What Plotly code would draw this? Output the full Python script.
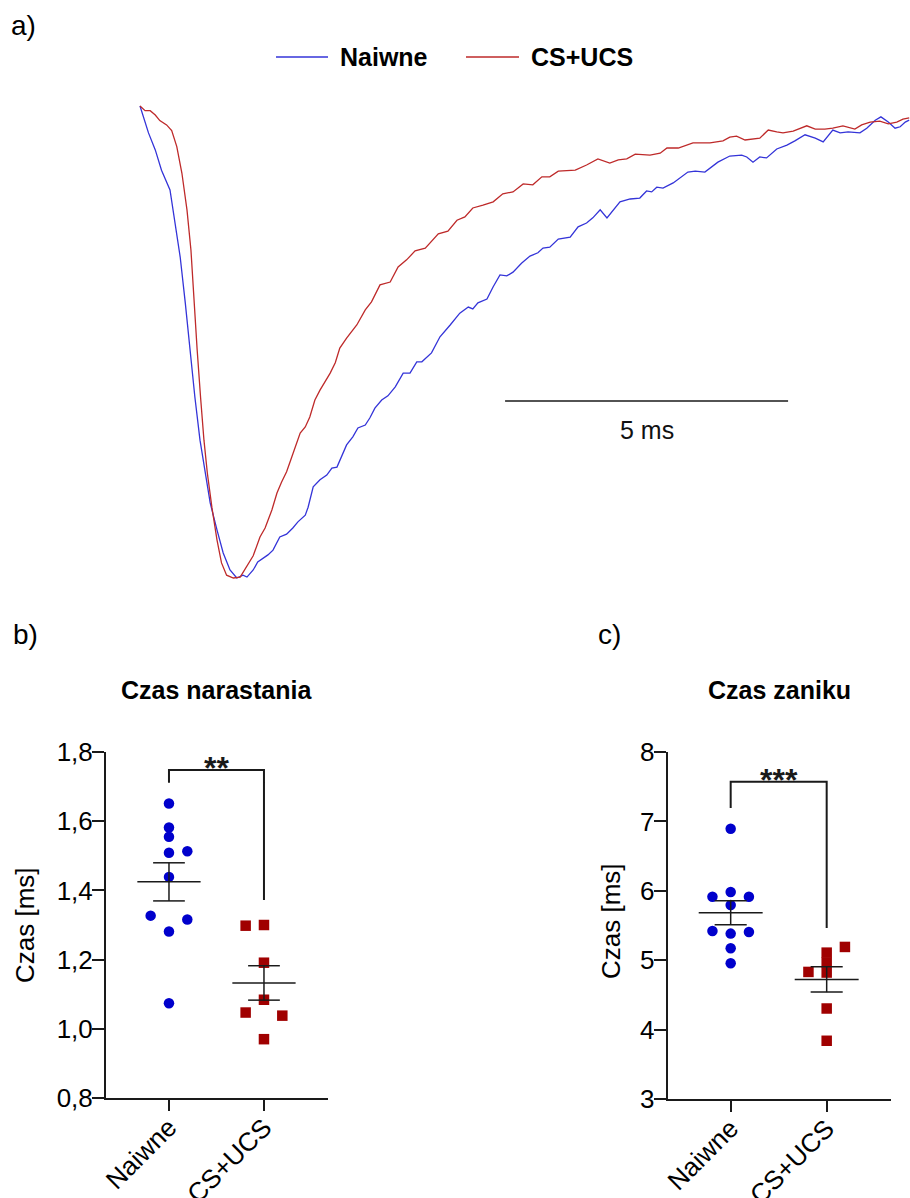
import plotly.graph_objects as go

# ---------------- data ----------------
# a) averaged EPSC traces: time [ms], amplitude normalised to the peak
naiwne_t = [0.00, 0.15, 0.27, 0.38, 0.53, 0.62, 0.71, 0.80, 0.88, 0.97, 1.06, 1.15, 1.24, 1.36, 1.47,
            1.59, 1.71, 1.82, 1.89, 2.00, 2.08, 2.26, 2.35, 2.47, 2.59, 2.70, 2.79, 2.92, 2.97, 3.06,
            3.18, 3.30, 3.39, 3.48, 3.56, 3.65, 3.76, 3.85, 3.98, 4.06, 4.15, 4.27, 4.38, 4.51, 4.65,
            4.77, 4.89, 4.98, 5.15, 5.30, 5.48, 5.65, 5.80, 5.88, 5.97, 6.13, 6.24, 6.36, 6.48, 6.59,
            6.74, 6.89, 7.03, 7.12, 7.24, 7.39, 7.60, 7.74, 7.89, 8.00, 8.13, 8.25, 8.48, 8.66, 8.83,
            8.95, 9.04, 9.13, 9.24, 9.42, 9.68, 9.81, 9.98, 10.21, 10.42, 10.63, 10.72, 10.83, 10.95,
            11.07, 11.25, 11.43, 11.57, 11.75, 11.93, 12.07, 12.24, 12.37, 12.51, 12.72, 12.84, 12.99,
            13.09, 13.22, 13.34, 13.43, 13.52, 13.59]
naiwne_amp = [0.000, -0.057, -0.093, -0.136, -0.178, -0.248, -0.320, -0.417, -0.517, -0.617, -0.708,
              -0.778, -0.841, -0.898, -0.947, -0.983, -1.000, -0.994, -0.998, -0.983, -0.966, -0.951,
              -0.941, -0.913, -0.907, -0.894, -0.881, -0.867, -0.850, -0.807, -0.792, -0.782, -0.767,
              -0.765, -0.744, -0.718, -0.701, -0.682, -0.676, -0.661, -0.640, -0.623, -0.614, -0.595,
              -0.566, -0.566, -0.542, -0.542, -0.523, -0.489, -0.464, -0.439, -0.426, -0.430, -0.417,
              -0.409, -0.383, -0.358, -0.360, -0.352, -0.333, -0.318, -0.311, -0.301, -0.299, -0.282,
              -0.278, -0.256, -0.248, -0.237, -0.220, -0.237, -0.203, -0.197, -0.195, -0.180, -0.182,
              -0.172, -0.174, -0.163, -0.140, -0.138, -0.140, -0.119, -0.106, -0.104, -0.108, -0.119,
              -0.108, -0.110, -0.091, -0.083, -0.074, -0.061, -0.068, -0.076, -0.051, -0.057, -0.055,
              -0.057, -0.047, -0.030, -0.023, -0.034, -0.047, -0.044, -0.034, -0.030]

csucs_t = [0.00, 0.09, 0.18, 0.27, 0.35, 0.47, 0.56, 0.65, 0.74, 0.83, 0.90, 0.95, 1.01, 1.07, 1.13,
           1.19, 1.27, 1.36, 1.44, 1.53, 1.65, 1.77, 1.89, 2.00, 2.12, 2.21, 2.33, 2.42, 2.50, 2.59,
           2.68, 2.83, 2.92, 3.00, 3.09, 3.18, 3.36, 3.45, 3.53, 3.65, 3.83, 3.98, 4.09, 4.24, 4.42,
           4.56, 4.71, 4.86, 5.04, 5.12, 5.27, 5.44, 5.60, 5.74, 5.88, 6.06, 6.24, 6.41, 6.59, 6.77,
           6.94, 7.10, 7.24, 7.39, 7.69, 7.89, 8.09, 8.30, 8.45, 8.60, 8.75, 9.01, 9.19, 9.31, 9.51,
           9.77, 9.95, 10.07, 10.30, 10.42, 10.54, 10.69, 10.95, 11.10, 11.25, 11.36, 11.54, 11.78,
           11.93, 12.10, 12.24, 12.42, 12.63, 12.75, 12.90, 13.07, 13.22, 13.37, 13.48, 13.59]
csucs_amp = [0.000, -0.010, -0.010, -0.019, -0.031, -0.040, -0.052, -0.086, -0.142, -0.220, -0.305,
             -0.405, -0.517, -0.617, -0.708, -0.778, -0.850, -0.919, -0.968, -0.994, -1.000, -0.998,
             -0.975, -0.953, -0.913, -0.894, -0.856, -0.820, -0.797, -0.775, -0.744, -0.693, -0.680,
             -0.659, -0.623, -0.602, -0.566, -0.544, -0.513, -0.492, -0.464, -0.432, -0.415, -0.379,
             -0.373, -0.341, -0.326, -0.307, -0.301, -0.290, -0.271, -0.265, -0.242, -0.235, -0.216,
             -0.210, -0.203, -0.186, -0.182, -0.165, -0.167, -0.150, -0.150, -0.138, -0.136, -0.125,
             -0.112, -0.121, -0.114, -0.112, -0.102, -0.104, -0.100, -0.089, -0.089, -0.078, -0.078,
             -0.078, -0.074, -0.066, -0.064, -0.072, -0.068, -0.051, -0.055, -0.057, -0.053, -0.042,
             -0.049, -0.049, -0.047, -0.042, -0.049, -0.040, -0.034, -0.032, -0.038, -0.034, -0.028,
             -0.025]

SCALE_MS = 5          # length of the time scale bar
SCALE_START = 6.45    # where the scale bar begins [ms]
SCALE_LEVEL = -0.625  # amplitude level of the scale bar

groups = ["Naiwne", "CS+UCS"]

# b) rise time [ms]
rise_naiwne = [1.651, 1.582, 1.555, 1.509, 1.513, 1.439, 1.327, 1.316, 1.281, 1.074]
rise_csucs = [1.298, 1.300, 1.191, 1.084, 1.047, 1.038, 0.970]

# c) decay time [ms]
decay_naiwne = [6.893, 5.982, 5.915, 5.915, 5.795, 5.421, 5.383, 5.407, 5.172, 4.956]
decay_csucs = [5.191, 5.109, 4.966, 4.831, 4.822, 4.304, 3.839]

# column slot of every dot inside the scatter-dot plot (-1 left, 0 centre, 1 right)
rise_naiwne_slot = [0, 0, 0, 0, 1, 0, -1, 1, 0, 0]
rise_csucs_slot = [-1, 0, 0, 0, -1, 1, 0]
decay_naiwne_slot = [0, 0, -1, 1, 0, -1, 0, 1, 0, 0]
decay_csucs_slot = [1, 0, 0, -1, 0, 0, 0]

# ---------------- styling ----------------
W, H = 910, 1198
FONT = "Liberation Sans, Arial, sans-serif"
BLUE_LINE = "#3434D8"
RED_LINE = "#BE2A2A"
BLUE_DOT = "#0000CC"
RED_DOT = "#A00000"
INK = "#1a1a1a"


def fx(p):
    return p / W


def fy(p):
    return 1 - p / H


def mean_sem(v):
    n = len(v)
    m = sum(v) / n
    sd = (sum((x - m) ** 2 for x in v) / (n - 1)) ** 0.5
    return m, sd / n ** 0.5


fig = go.Figure()

# a) traces
fig.add_trace(go.Scatter(x=naiwne_t, y=naiwne_amp, mode="lines", name="Naiwne",
                         line=dict(color=BLUE_LINE, width=1.3), xaxis="x", yaxis="y",
                         showlegend=False))
fig.add_trace(go.Scatter(x=csucs_t, y=csucs_amp, mode="lines", name="CS+UCS",
                         line=dict(color=RED_LINE, width=1.3), xaxis="x", yaxis="y",
                         showlegend=False))


def dot_panel(vals_a, vals_b, slot_a, slot_b, xa, ya, spread):
    for gi, (vals, slots, col, sym) in enumerate(
            [(vals_a, slot_a, BLUE_DOT, "circle"), (vals_b, slot_b, RED_DOT, "square")]):
        fig.add_trace(go.Scatter(
            x=[gi + s * spread for s in slots], y=vals, mode="markers",
            marker=dict(color=col, size=10.5, symbol=sym, line=dict(width=0)),
            xaxis=xa, yaxis=ya, showlegend=False, name=groups[gi]))
    for gi, vals in enumerate([vals_a, vals_b]):
        m, se = mean_sem(vals)
        xs = [gi - 0.333, gi + 0.333, None,
              gi - 0.167, gi + 0.167, None,
              gi - 0.167, gi + 0.167, None,
              gi, gi]
        ys = [m, m, None, m + se, m + se, None, m - se, m - se, None, m - se, m + se]
        fig.add_trace(go.Scatter(x=xs, y=ys, mode="lines", line=dict(color=INK, width=1.5),
                                 xaxis=xa, yaxis=ya, showlegend=False, hoverinfo="skip"))


dot_panel(rise_naiwne, rise_csucs, rise_naiwne_slot, rise_csucs_slot, "x2", "y2", 0.193)
dot_panel(decay_naiwne, decay_csucs, decay_naiwne_slot, decay_csucs_slot, "x3", "y3", 0.19)

shapes = []
annotations = []

# scale bar
shapes.append(dict(type="line", xref="x", yref="y", x0=SCALE_START, x1=SCALE_START + SCALE_MS,
                   y0=SCALE_LEVEL, y1=SCALE_LEVEL, line=dict(color=INK, width=1.4)))
annotations.append(dict(xref="x", yref="y", x=SCALE_START + SCALE_MS / 2, y=-0.686,
                        text=f"{SCALE_MS} ms", showarrow=False, xanchor="center", yanchor="middle",
                        font=dict(size=25, color="#111")))


# significance brackets
def bracket(xa, ya, top, left_end, right_end, stars, star_y):
    shapes.append(dict(type="path", xref=xa, yref=ya,
                       path=f"M 0,{left_end} L 0,{top} L 1,{top} L 1,{right_end}",
                       line=dict(color=INK, width=2)))
    annotations.append(dict(xref=xa, yref=ya, x=0.5, y=star_y, text=f"<b>{stars}</b>",
                            showarrow=False, xanchor="center", yanchor="middle",
                            font=dict(size=32, color=INK)))


bracket("x2", "y2", 1.748, 1.711, 1.372, "**", 1.755)
bracket("x3", "y3", 7.572, 7.193, 5.464, "***", 7.59)

# legend drawn by hand
for x0, x1, tx, col, label in [(276, 328, 338, BLUE_LINE, "Naiwne"),
                               (466, 519, 529, RED_LINE, "CS+UCS")]:
    shapes.append(dict(type="line", xref="paper", yref="paper", x0=fx(x0), x1=fx(x1),
                       y0=fy(57), y1=fy(57), line=dict(color=col, width=1.5)))
    annotations.append(dict(xref="paper", yref="paper", x=fx(tx), y=fy(57),
                            text=f"<b>{label}</b>", showarrow=False, xanchor="left",
                            yanchor="middle", font=dict(size=25, color="#000")))

# panel letters and titles
for lx, ly, txt in [(9, 25, "a)"), (11, 634, "b)"), (596, 634, "c)")]:
    annotations.append(dict(xref="paper", yref="paper", x=fx(lx), y=fy(ly), text=txt,
                            showarrow=False, xanchor="left", yanchor="middle",
                            font=dict(size=28, color="#000")))
for cx, txt in [(216.5, "Czas narastania"), (779.5, "Czas zaniku")]:
    annotations.append(dict(xref="paper", yref="paper", x=fx(cx), y=fy(690),
                            text=f"<b>{txt}</b>", showarrow=False, xanchor="center",
                            yanchor="middle", font=dict(size=25, color="#000")))
for cx, cy in [(25, 925), (611, 921)]:
    annotations.append(dict(xref="paper", yref="paper", x=fx(cx), y=fy(cy), text="Czas [ms]",
                            textangle=-90, showarrow=False, xanchor="center", yanchor="middle",
                            font=dict(size=26, color="#000")))

axis_common = dict(showline=True, linecolor=INK, linewidth=2, ticks="outside", tickcolor=INK,
                   tickwidth=2, showgrid=False, zeroline=False, automargin=False,
                   tickfont=dict(size=26, color="#000", family=FONT))

fig.update_layout(
    template="none",
    width=W, height=H, margin=dict(l=0, r=0, t=0, b=0, pad=0), autosize=False,
    paper_bgcolor="white", plot_bgcolor="white",
    font=dict(family=FONT, color="#000"),
    separators=", ",
    showlegend=False,
    xaxis=dict(domain=[fx(137.17), 1.0], range=[-0.05, 13.604], visible=False, automargin=False),
    yaxis=dict(domain=[fy(587.44), fy(96.56)], range=[-1.02, 0.02], visible=False,
               automargin=False),
    xaxis2=dict(domain=[fx(106), fx(328)], range=[-0.663, 1.674], anchor="y2",
                tickvals=[0, 1], ticktext=groups, tickangle=-45, ticklen=11,
                ticklabelstandoff=-9, **axis_common),
    yaxis2=dict(domain=[fy(1098), fy(752)], range=[0.8, 1.8], anchor="x2",
                tickvals=[0.8, 1.0, 1.2, 1.4, 1.6, 1.8], tickformat=".1f", ticklen=12,
                ticklabelstandoff=-6, **axis_common),
    xaxis3=dict(domain=[fx(667.7), fx(891)], range=[-0.656, 1.67], anchor="y3",
                tickvals=[0, 1], ticktext=groups, tickangle=-45, ticklen=11,
                ticklabelstandoff=-9, **axis_common),
    yaxis3=dict(domain=[fy(1099), fy(752)], range=[3, 8], anchor="x3",
                tickvals=[3, 4, 5, 6, 7, 8], ticklen=12, ticklabelstandoff=-6, **axis_common),
    shapes=shapes, annotations=annotations,
)

fig.write_html("out.html")
